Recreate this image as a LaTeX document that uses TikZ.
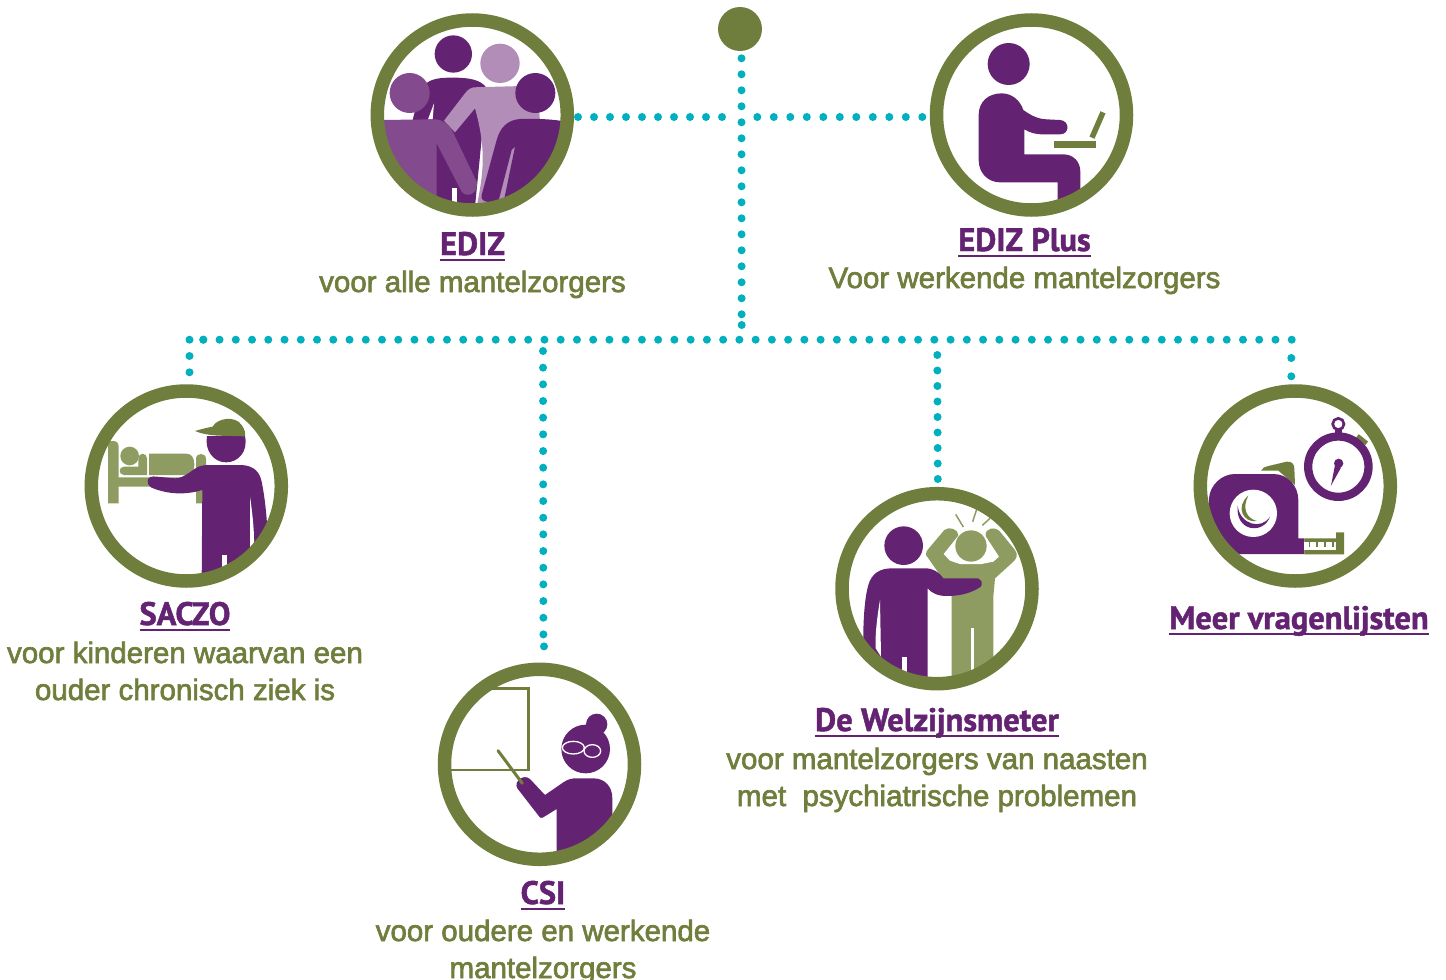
\documentclass[tikz,border=0pt]{standalone}
\usepackage{fontspec}
\setmainfont{Liberation Sans}[FakeBold=2.2]
\newfontfamily\ttlfont{PT Sans Bold}[FakeBold=1.5]
\definecolor{olv}{HTML}{6F7E3C}
\definecolor{lolv}{HTML}{8E9B61}
\definecolor{pur}{HTML}{642372}
\definecolor{mpur}{HTML}{834B8E}
\definecolor{lpur}{HTML}{B28DB8}
\definecolor{teal2}{HTML}{00B0BF}
\newcommand\ttl[1]{\setbox0\hbox{#1}\rlap{#1}\rlap{\raisebox{-5.5pt}{\rule{\wd0}{1.3pt}}}\hbox to\wd0{\hfil}}
\tikzset{
  ring/.style={circle,draw=olv,line width=13.5pt,minimum size=190pt,inner sep=0pt},
  hub/.style={circle,fill=olv,minimum size=44pt,inner sep=0pt},
  dotline/.style={draw=teal2,line width=8pt,line cap=round,dash pattern=on 0pt off #1pt},
  dotline/.default=16,
  title/.style={anchor=base,inner sep=0pt,text=pur,font=\ttlfont\fontsize{32.5}{36}\selectfont},
  body/.style={anchor=base,inner sep=0pt,text=olv,align=center,font=\fontsize{29.5}{37}\selectfont},
  zoomed/.style={x=0.33333pt,y=-0.33333pt}
}
\begin{document}
\begin{tikzpicture}[x=1pt,y=-1pt]
\useasboundingbox (0,0) rectangle (1446,980);
% ---------- EDIZ icon
\begin{scope}[shift={(360,0)},zoomed]
\clip (337,345) circle (268);
\fill[pur] (280,162) circle (56);
\fill[pur] (150,400) .. controls (160,340) and (175,300) .. (190,262) .. controls (200,240) and (230,233) .. (270,233) .. controls (330,232) and (365,240) .. (380,265) -- (345,620) -- (150,620) -- cycle;
\fill[white] (222,310) -- (204,358) -- (218,358) -- cycle;
\fill[white] (275,565) rectangle (290,620);
\fill[lpur] (420,190) circle (59);
\fill[lpur] (340,262) -- (490,258) .. controls (530,270) and (540,320) .. (540,380) -- (480,620) -- (350,620) .. controls (370,520) and (380,450) .. (345,325) -- (285,397) -- (252,362) -- (315,280) .. controls (325,268) and (332,263) .. (340,262) -- cycle;
\fill[mpur] (149,279) circle (60);
\fill[mpur] (60,360) -- (225,358) .. controls (250,360) and (265,370) .. (278,395) -- (350,545) .. controls (358,575) and (325,598) .. (305,575) -- (230,430) -- (230,620) -- (60,620) -- cycle;
\fill[pur] (526,279) circle (60);
\fill[pur] (620,365) .. controls (580,358) and (530,355) .. (480,357) .. controls (440,360) and (420,385) .. (410,420) -- (365,585) .. controls (360,600) and (372,610) .. (415,605) -- (455,450) -- (465,440) -- (428,620) -- (620,620) -- cycle;
\end{scope}
% ---------- EDIZ Plus icon
\begin{scope}[shift={(920,0)},zoomed]
\clip (335,345) circle (268);
\fill[pur] (266,192) circle (63);
\fill[pur] (176,345) .. controls (176,305) and (205,280) .. (245,280) .. controls (275,280) and (300,300) .. (310,330) .. controls (335,348) and (355,357) .. (380,358) -- (420,360) .. controls (450,362) and (450,403) .. (420,403) -- (370,403) .. controls (345,403) and (330,398) .. (313,388) -- (313,463) -- (430,463) .. controls (460,463) and (481,485) .. (481,515) -- (481,620) -- (413,620) -- (413,547) -- (240,547) .. controls (205,547) and (176,520) .. (176,480) -- cycle;
\fill[olv] (402,423) rectangle (528,444);
\draw[olv,line width=5.5pt] (516,413) -- (549,337);
\end{scope}
% ---------- SACZO icon
\begin{scope}[shift={(75,375)},zoomed]
\clip (337,333) circle (268);
\fill[lolv] (99,385) -- (99,198) -- (115,198) .. controls (125,198) and (131,205) .. (131,215) -- (131,307) -- (363,307) -- (363,252) .. controls (363,232) and (393,232) .. (393,252) -- (393,385) -- (363,385) -- (363,335) -- (131,335) -- (131,385) -- cycle;
\fill[lolv] (164,243) circle (28);
\fill[lolv] (147,275) -- (190,275) -- (190,250) .. controls (190,232) and (216,232) .. (216,250) -- (216,300) -- (147,300) .. controls (130,300) and (130,275) .. (147,275) -- cycle;
\fill[lolv] (222,236) -- (335,236) .. controls (350,236) and (358,250) .. (358,268) .. controls (358,290) and (350,300) .. (335,300) -- (222,300) -- cycle;
\fill[pur] (396,183) -- (510,183) .. controls (520,230) and (490,262) .. (453,262) .. controls (415,262) and (388,225) .. (396,183) -- cycle;
\fill[olv] (360,168) .. controls (380,162) and (400,157) .. (413,155) .. controls (425,130) and (480,120) .. (500,150) .. controls (510,165) and (512,175) .. (510,184) -- (430,182) .. controls (400,180) and (375,175) .. (360,168) -- cycle;
\fill[pur] (218,318) .. controls (218,305) and (232,303) .. (245,305) -- (300,310) .. controls (325,310) and (345,290) .. (365,278) .. controls (375,272) and (390,270) .. (400,270) -- (500,270) .. controls (540,272) and (555,295) .. (560,320) .. controls (570,370) and (575,420) .. (578,480) -- (578,620) -- (380,620) -- (382,345) .. controls (340,358) and (290,360) .. (240,342) .. controls (225,338) and (218,330) .. (218,318) -- cycle;
\fill[white] (525,365) .. controls (533,420) and (538,470) .. (537,510) -- (525,530) -- cycle;
\fill[white] (442,540) rectangle (457,600);
\end{scope}
% ---------- CSI icon
\begin{scope}[shift={(430,655)},zoomed]
\clip (329,328) circle (268);
\draw[olv,line width=2.4pt] (185,100) -- (295,100) -- (295,345) -- (40,345);
\fill[pur] (467,282) circle (73);
\fill[pur] (500,208) circle (32);
\draw[white,line width=1.3pt] (430,278) ellipse (33 and 19);
\draw[white,line width=1.3pt] (487,288) ellipse (25 and 19);
\draw[white,line width=1.3pt] (462,282) -- (463,284);
\fill[pur] (380,620) -- (380,462) -- (338,488) .. controls (333,490) and (330,488) .. (328,485) -- (262,400) .. controls (250,380) and (280,355) .. (300,372) -- (345,420) -- (400,382) .. controls (415,372) and (425,370) .. (440,370) -- (490,370) .. controls (525,370) and (547,395) .. (547,430) -- (547,620) -- cycle;
\draw[olv,line width=3pt,line cap=round] (204,287) -- (277,385);
\end{scope}
% ---------- Welzijnsmeter icon
\begin{scope}[shift={(825,480)},zoomed]
\clip (336,326) circle (268);
\fill[lolv] (380,620) -- (380,350) -- (345,285) -- (303,225) .. controls (302,218) and (305,212) .. (310,207) -- (358,150) .. controls (372,138) and (400,148) .. (400,165) -- (390,185) -- (487,185) -- (482,165) .. controls (480,145) and (510,138) .. (525,155) -- (570,210) .. controls (580,225) and (575,235) .. (565,245) -- (510,295) -- (505,350) -- (505,620) -- cycle;
\fill[white] (396,172) -- (356,222) -- (375,242) -- (405,252) -- (470,252) -- (505,245) -- (522,230) -- (484,172) -- cycle;
\fill[lolv] (438,198) circle (47);
\fill[white] (438,445) rectangle (447,620);
\draw[lolv,line width=1.5pt] (392,103) -- (415,141);
\draw[lolv,line width=1.5pt] (455,88) -- (443,125);
\draw[lolv,line width=1.5pt] (495,115) -- (472,136);
\fill[pur] (236,197) circle (58);
\fill[pur] (110,620) -- (115,470) .. controls (115,410) and (120,350) .. (130,315) .. controls (140,280) and (165,265) .. (200,265) -- (300,265) .. controls (325,265) and (340,275) .. (355,295) -- (450,295) .. controls (470,292) and (480,315) .. (460,325) .. controls (430,342) and (400,348) .. (365,348) .. controls (340,348) and (320,340) .. (308,325) -- (308,620) -- cycle;
\fill[white] (165,360) .. controls (155,420) and (150,470) .. (152,505) -- (168,530) -- cycle;
\fill[white] (232,532) rectangle (247,620);
\end{scope}
% ---------- Meer vragenlijsten icon
\begin{scope}[shift={(1185,375)},zoomed]
\clip (331,334) circle (268);
\fill[olv] (228,287) .. controls (232,278) and (240,275) .. (250,273) -- (305,260) .. controls (320,258) and (328,268) .. (328,280) -- (330,330) -- (280,287) -- cycle;
\fill[pur] (60,620) -- (72,370) .. controls (75,330) and (110,297) .. (150,297) -- (265,297) .. controls (310,297) and (340,335) .. (340,375) -- (340,490) -- (358,490) -- (358,537) -- (160,537) -- (160,620) -- cycle;
\fill[white] (205,415) circle (71);
\fill[pur] (158,392) .. controls (150,470) and (235,480) .. (255,425) .. controls (230,465) and (165,450) .. (158,392) -- cycle;
\fill[olv] (190,362) .. controls (150,395) and (175,445) .. (215,438) .. controls (185,430) and (170,400) .. (190,362) -- cycle;
\fill[olv] (358,490) -- (453,490) -- (453,472) -- (477,472) -- (477,538) -- (358,538) -- cycle;
\fill[white] (358,500) rectangle (453,525);
\fill[olv] (372,500) rectangle (376,515);
\fill[olv] (394,500) rectangle (398,515);
\fill[olv] (418,500) rectangle (422,515);
\fill[olv] (442,500) rectangle (446,515);
\draw[pur,line width=2.7pt] (460,147) circle (17);
\fill[pur] (450,160) rectangle (470,178);
\draw[olv,line width=4.5pt] (517,183) -- (545,205);
\draw[pur,line width=8.3pt] (460,275) circle (90.5);
\fill[pur] (461,265) circle (14);
\fill[pur] (450,270) -- (468,278) -- (438,332) -- cycle;
\end{scope}
% ---------- rings and hub
\node[ring] (ediz) at (472.3,115) {};
\node[ring] (plus) at (1031.5,115) {};
\node[ring] (saczo) at (186.3,486) {};
\node[ring] (csi) at (539.5,764.3) {};
\node[ring] (welz) at (937,588.7) {};
\node[ring] (meer) at (1295.3,486) {};
\node[hub] (top) at (740,29) {};
% ---------- connector junctions
\coordinate (jv) at (741.5,58.3);
\coordinate (jb) at (741.6,315);
\coordinate (jc) at (741.7,325);
\coordinate (js) at (741.7,326);
\coordinate (el) at (578,117);
\coordinate (jl) at (722,117);
\coordinate (jr) at (757.3,117);
\coordinate (er) at (923,117);
\coordinate (hl) at (189.5,339.7);
\coordinate (hk) at (203.3,339.7);
\coordinate (hr) at (1292,339.7);
\coordinate (d1) at (189.5,356);
\coordinate (d1e) at (189.5,372.5);
\coordinate (d2) at (543,351);
\coordinate (d2e) at (543.4,634.8);
\coordinate (d2f) at (544,646.4);
\coordinate (d2g) at (544,647.4);
\coordinate (d3) at (937.3,355);
\coordinate (d3e) at (937.8,479.2);
\coordinate (d4) at (1291.3,358);
\coordinate (d4e) at (1291.3,376.5);
\draw[dotline] (jv) -- (jb);
\draw[dotline=1] (jc) -- (js);
\draw[dotline] (el) -- (jl);
\draw[dotline=16.5] (jr) -- (er);
\draw[dotline=13.8] (hl) -- (hk);
\draw[dotline=16.245] (hk) -- (hr);
\draw[dotline=16.3] (d1) -- (d1e);
\draw[dotline=16.67] (d2) -- (d2e);
\draw[dotline=2] (d2f) -- (d2g);
\draw[dotline=15.5] (d3) -- (d3e);
\draw[dotline=18.3] (d4) -- (d4e);
% ---------- labels
\node[title] (t1) at (472.5,255) {\ttl{EDIZ}};
\node[body] (b1) at (472.5,292) {voor alle mantelzorgers};
\node[title] (t2) at (1024.5,251) {\ttl{EDIZ Plus}};
\node[body] (b2) at (1024.5,288) {Voor werkende mantelzorgers};
\node[title] (t3) at (185,625) {\ttl{SACZO}};
\node[body] (b3) at (185,700) {voor kinderen waarvan een\\ouder chronisch ziek is};
\node[title] (t4) at (543,904) {\ttl{CSI}};
\node[body] (b4) at (543,978) {voor oudere en werkende\\mantelzorgers};
\node[title] (t5) at (937,731) {\ttl{De Welzijnsmeter}};
\node[body] (b5) at (937,806) {voor mantelzorgers van naasten\\met\ \ psychiatrische problemen};
\node[title] (t6) at (1299,629) {\ttl{Meer vragenlijsten}};
\end{tikzpicture}
\end{document}
